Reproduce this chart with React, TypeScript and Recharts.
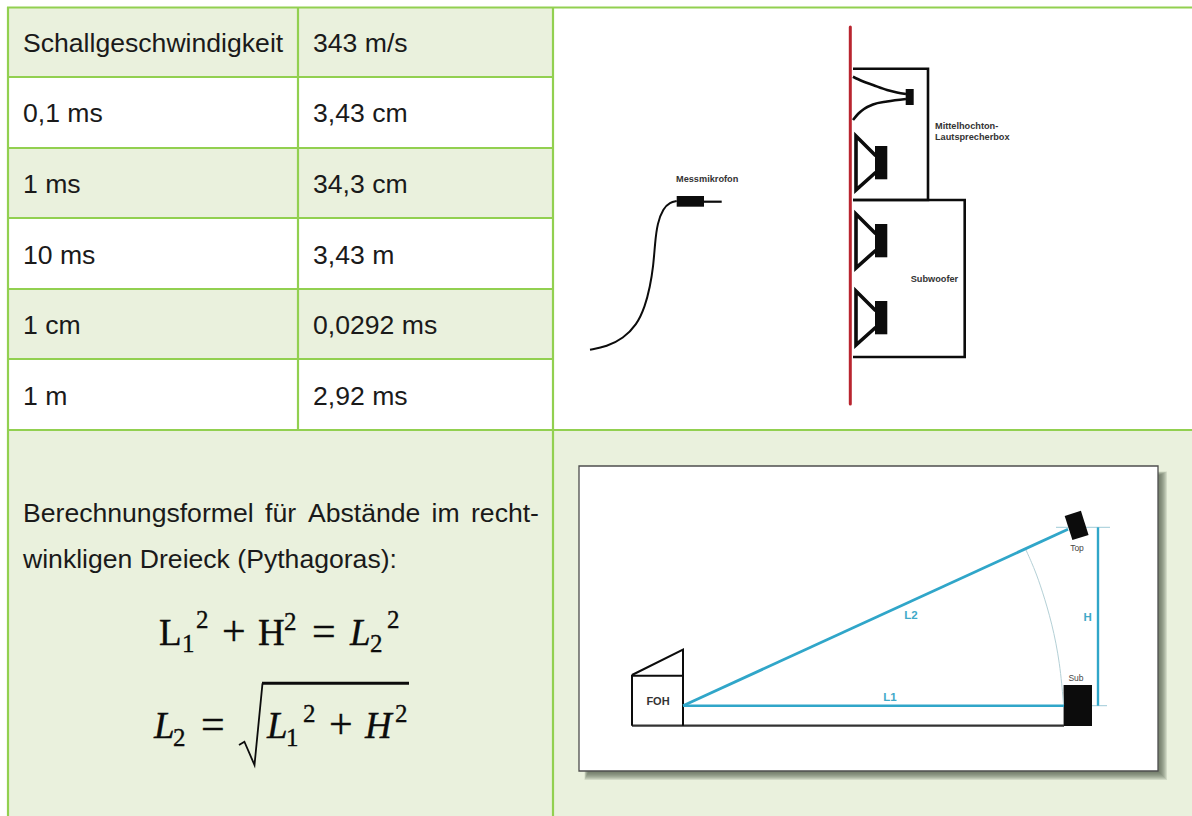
import React from "react";
import { ComposedChart, Line, Scatter, ReferenceArea, XAxis, YAxis } from "recharts";

type P = { x: number; y: number };
const pts = (...a: number[]): P[] => {
  const out: P[] = [];
  for (let i = 0; i < a.length; i += 2) out.push({ x: a[i], y: a[i + 1] });
  return out;
};

const GREEN = "#92d050";
const TINT = "#eaf1dd";
const BLUE = "#30a6c9";
const RED = "#b9252f";
const INK = "#0c0c0c";

// Table
const rowLabels = ["Schallgeschwindigkeit", "0,1 ms", "1 ms", "10 ms", "1 cm", "1 m"];
const rowValues = ["343 m/s", "3,43 cm", "34,3 cm", "3,43 m", "0,0292 ms", "2,92 ms"];
const rowCentres = [43, 113, 184, 255, 325, 396];
const rowEdges = [7.5, 77, 148, 218, 289, 359, 430];
const tableLeft = 8;
const col1 = 298;
const col2 = 553;
const pageRight = 1192;
const pageBottom = 816;

const tableText = [
  ...rowLabels.map((t, i) => ({ x: 23, y: rowCentres[i], t })),
  ...rowValues.map((t, i) => ({ x: 313, y: rowCentres[i], t })),
];

// Paragraph
const proseWords = [
  { x: 23, y: 513, t: "Berechnungsformel" },
  { x: 265, y: 513, t: "für" },
  { x: 308, y: 513, t: "Abstände" },
  { x: 431.6, y: 513, t: "im" },
  { x: 471, y: 513, t: "recht-" },
  { x: 23, y: 559, t: "winkligen Dreieck (Pythagoras):" },
];

// Formula glyphs
const mathUpright = [
  { x: 159, y: 645, t: "L" },
  { x: 258, y: 645, t: "H" },
];
const mathOperators = [
  { x: 222, y: 645, t: "+" },
  { x: 312, y: 645, t: "=" },
  { x: 201, y: 738, t: "=" },
  { x: 329, y: 738, t: "+" },
];
const mathItalic = [
  { x: 350, y: 645, t: "L" },
  { x: 154, y: 738, t: "L" },
  { x: 267, y: 738, t: "L" },
  { x: 365, y: 738, t: "H" },
];
const mathSmall = [
  { x: 182, y: 652, t: "1" },
  { x: 196, y: 628, t: "2" },
  { x: 284, y: 630, t: "2" },
  { x: 370, y: 652, t: "2" },
  { x: 387, y: 628, t: "2" },
  { x: 173, y: 746, t: "2" },
  { x: 286, y: 746, t: "1" },
  { x: 303, y: 722, t: "2" },
  { x: 395, y: 722, t: "2" },
];
const radical = pts(239, 745, 244.4, 741.7, 254.5, 765, 262.5, 683.3);
const radicalBar = pts(262, 683.3, 409, 683.3);

// Loudspeaker drawing
const boxTop = pts(853, 68.7, 928, 68.7, 928, 200, 853, 200);
const boxSub = pts(853, 200, 964.7, 200, 964.7, 357, 853, 357);
const wall = pts(850.3, 27, 850.3, 404);
const hornUpper = pts(853, 76.7, 862, 81, 873, 85, 887, 90, 897, 92.5, 906, 94);
const hornLower = pts(853, 120, 858, 114, 864, 109, 873, 104.5, 887, 101.5, 906, 99);
const hornDriver = { x1: 905.7, x2: 913.7, y1: 89, y2: 105 };
const speakerTops = [136, 214, 291];
const cable = pts(590, 349.7, 606.7, 346.7, 623.3, 338.3, 636.7, 325, 645, 306.7, 650, 286.7, 653.3, 266.7, 655, 243.3, 657.3, 223.3, 663.3, 208.3, 670, 202.3, 676.7, 201);
const micBody = { x1: 676.7, x2: 704, y1: 196, y2: 206.7 };
const micPin = pts(704, 201.7, 721.7, 201.7);
const drawingLabels = [
  { x: 676, y: 179, t: "Messmikrofon" },
  { x: 935, y: 125.7, t: "Mittelhochton-" },
  { x: 935, y: 136.7, t: "Lautsprecherbox" },
  { x: 910.7, y: 278.7, t: "Subwoofer" },
];

// Triangle drawing
const panel = { x1: 579, x2: 1158, y1: 466, y2: 771 };
const shadowGrow = [0, 1, 2, 3, 4, 5, 6, 7];
const ground = pts(632, 725.7, 1064, 725.7);
const fohBox = pts(632, 725.7, 632, 675.7, 683, 675.7, 683, 725.7);
const fohDesk = pts(632, 675, 683, 649.5, 683, 675.7);
const legL1 = pts(683, 705.7, 1064, 705.7);
const legL2 = pts(683, 705.7, 1068, 529.3);
const legH = pts(1098, 527.3, 1098, 705.7);
const tickTop = pts(1056, 527.3, 1110, 527.3);
const tickBottom = pts(1092, 705.7, 1107, 705.7);
const arc = pts(1026, 550, 1035, 570, 1042, 590, 1052, 623, 1060, 663, 1063.6, 705);
const subBox = { x1: 1063.6, x2: 1092, y1: 685, y2: 726 };
const topBox = pts(1072.8, 513.3, 1080.5, 537.5);
const blueLabels = [
  { x: 911, y: 614.7, t: "L2" },
  { x: 890, y: 696.7, t: "L1" },
  { x: 1087.7, y: 616.7, t: "H" },
];
const greyLabels = [
  { x: 1077, y: 547.5, t: "Top" },
  { x: 1076, y: 677.7, t: "Sub" },
];
const fohLabel = [{ x: 658, y: 701, t: "FOH" }];

const textShape =
  (style: React.SVGProps<SVGTextElement>) =>
  (props: any) =>
    (
      <text x={props.cx} y={props.cy} {...style}>
        {props.payload.t}
      </text>
    );

const poly = (key: string, data: P[], stroke: string, strokeWidth: number, type: any = "linear", cap: any = "butt") => (
  <Line
    key={key}
    data={data}
    dataKey="y"
    type={type}
    stroke={stroke}
    strokeWidth={strokeWidth}
    dot={false}
    activeDot={false}
    isAnimationActive={false}
    strokeLinejoin="miter"
    strokeLinecap={cap}
    legendType="none"
  />
);

const words = (key: string, data: any[], style: React.SVGProps<SVGTextElement>) => (
  <Scatter key={key} data={data} dataKey="y" isAnimationActive={false} legendType="none" shape={textShape(style) as any} />
);

const SANS = "'Liberation Sans', Arial, sans-serif";
const SERIF = "'Liberation Serif', serif";
const mathWeight = { stroke: INK, strokeWidth: 0.35 };

export default function App() {
  const tinted = [0, 2, 4];
  return (
    <div style={{ position: "absolute", left: 0, top: 0, width: 1192, height: 816, background: "#fff" }}>
      <ComposedChart width={1192} height={816} margin={{ top: 0, right: 0, bottom: 0, left: 0 }} data={[]}>
        <XAxis type="number" dataKey="x" domain={[0, 1192]} hide allowDataOverflow />
        <YAxis type="number" dataKey="y" domain={[0, 816]} reversed hide allowDataOverflow />

        {tinted.map((r) => (
          <ReferenceArea key={`tint${r}`} x1={tableLeft} x2={col2} y1={rowEdges[r]} y2={rowEdges[r + 1]} fill={TINT} fillOpacity={1} stroke="none" ifOverflow="visible" />
        ))}
        <ReferenceArea x1={tableLeft} x2={pageRight} y1={rowEdges[6]} y2={pageBottom} fill={TINT} fillOpacity={1} stroke="none" ifOverflow="visible" />

        {shadowGrow.map((g) => (
          <ReferenceArea key={`sh${g}`} x1={panel.x1 + 9 - g * 0.5} x2={panel.x2 + 2 + g} y1={panel.y1 + 9 - g * 0.5} y2={panel.y2 + 2 + g} fill="#59614e" fillOpacity={0.16} stroke="none" ifOverflow="visible" />
        ))}
        <ReferenceArea {...panel} fill="#ffffff" fillOpacity={1} stroke="#4d4d4d" strokeWidth={1.3} ifOverflow="visible" />

        <ReferenceArea {...hornDriver} fill={INK} fillOpacity={1} stroke="none" ifOverflow="visible" />
        <ReferenceArea {...micBody} fill={INK} fillOpacity={1} stroke="none" ifOverflow="visible" />
        <ReferenceArea {...subBox} fill={INK} fillOpacity={1} stroke="none" ifOverflow="visible" />
        {speakerTops.map((t) => (
          <ReferenceArea key={`mag${t}`} x1={875} x2={887.3} y1={t + 10} y2={t + 43.3} fill={INK} fillOpacity={1} stroke="none" ifOverflow="visible" />
        ))}

        {rowEdges.map((y, i) => poly(`h${i}`, pts(tableLeft - 1, y, i === 0 || i === 6 ? pageRight : col2, y), GREEN, 2.2))}
        {poly("vLeft", pts(tableLeft, 7, tableLeft, pageBottom), GREEN, 2.2)}
        {poly("vCol1", pts(col1, 7, col1, rowEdges[6]), GREEN, 2.2)}
        {poly("vCol2", pts(col2, 7, col2, pageBottom), GREEN, 2.2)}

        {poly("boxTop", boxTop, INK, 2.6)}
        {poly("boxSub", boxSub, INK, 2.6)}
        {poly("wall", wall, RED, 3, "linear", "round")}
        {poly("hornU", hornUpper, INK, 2.6, "monotone")}
        {poly("hornL", hornLower, INK, 2.6, "monotone")}
        {speakerTops.map((t) => poly(`cone${t}`, pts(875, t + 19, 856, t, 856, t + 54, 875, t + 37), INK, 3.6, "linear", "round"))}
        {poly("cable", cable, INK, 2, "basis")}
        {poly("pin", micPin, INK, 2.2)}

        {poly("ground", ground, "#333333", 2.2)}
        {poly("fohbox", fohBox, INK, 2)}
        {poly("desk", fohDesk, INK, 2)}
        {poly("arc", arc, "#b4d0d6", 1, "basis")}
        {poly("tickT", tickTop, "#9fcbd8", 1)}
        {poly("tickB", tickBottom, "#9fcbd8", 1)}
        {poly("L1", legL1, BLUE, 2.4)}
        {poly("L2", legL2, BLUE, 2.8)}
        {poly("H", legH, BLUE, 2.4)}
        {poly("top", topBox, INK, 17)}
        {poly("radical", radical, INK, 1.8)}
        {poly("radicalBar", radicalBar, INK, 3)}

        {words("tableText", tableText, { fontFamily: SANS, fontSize: 26.6, fill: "#1a1a1a", dominantBaseline: "central" })}
        {words("prose", proseWords, { fontFamily: SANS, fontSize: 26.6, fill: "#1a1a1a", dominantBaseline: "central" })}
        {words("mathU", mathUpright, { fontFamily: SERIF, fontSize: 37, fill: INK, ...mathWeight })}
        {words("mathO", mathOperators, { fontFamily: SERIF, fontSize: 42, fill: INK, ...mathWeight })}
        {words("mathI", mathItalic, { fontFamily: SERIF, fontSize: 37, fontStyle: "italic", fill: INK, ...mathWeight })}
        {words("mathS", mathSmall, { fontFamily: SERIF, fontSize: 25, fill: INK, ...mathWeight })}
        {words("draw", drawingLabels, { fontFamily: SANS, fontSize: 9.2, fontWeight: 700, fill: "#333", dominantBaseline: "central" })}
        {words("blue", blueLabels, { fontFamily: SANS, fontSize: 11.5, fontWeight: 700, fill: "#3fa9c8", textAnchor: "middle", dominantBaseline: "central" })}
        {words("grey", greyLabels, { fontFamily: SANS, fontSize: 8.5, fill: "#444", textAnchor: "middle", dominantBaseline: "central" })}
        {words("fohlabel", fohLabel, { fontFamily: SANS, fontSize: 11, fontWeight: 700, fill: "#333", textAnchor: "middle", dominantBaseline: "central" })}
      </ComposedChart>
    </div>
  );
}
